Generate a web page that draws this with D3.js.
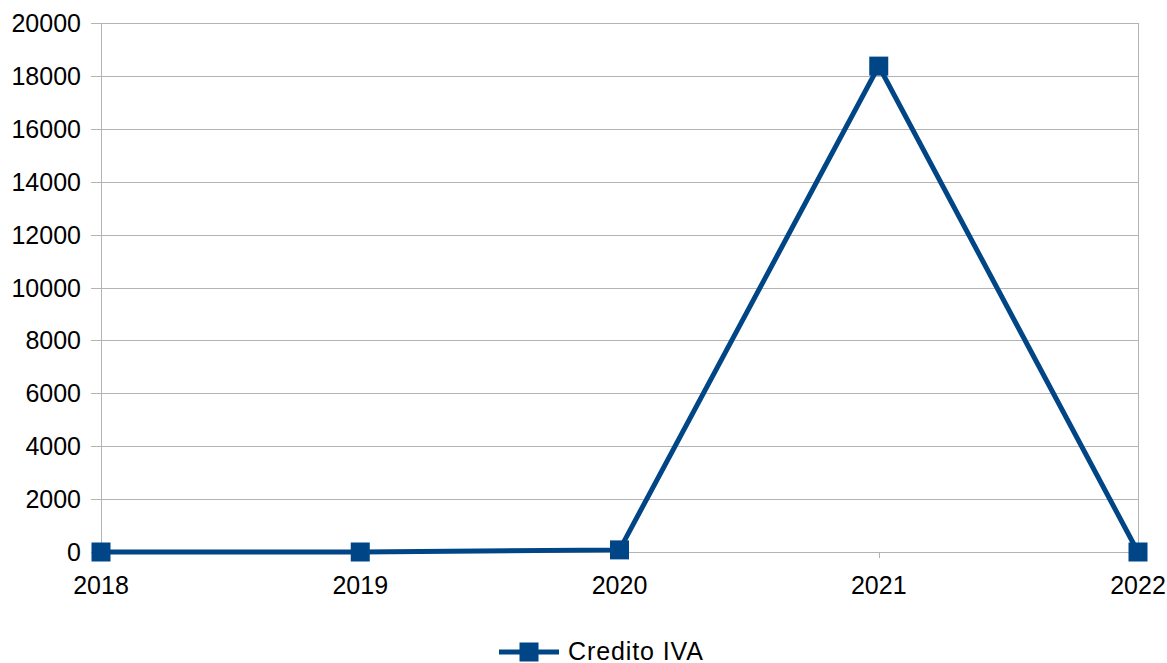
<!DOCTYPE html>
<html>
<head>
<meta charset="utf-8">
<script src="https://cdn.jsdelivr.net/npm/d3@7"></script>
<style>
  html, body { margin: 0; padding: 0; background: #fff; }
  svg { display: block; font-family: "Liberation Sans", Arial, sans-serif; }
</style>
</head>
<body>
<svg id="chart" width="1167" height="663"></svg>
<script>
const categories = ["2018", "2019", "2020", "2021", "2022"];
const values = [0, 0, 80, 18370, 0];
const yTicks = [0, 2000, 4000, 6000, 8000, 10000, 12000, 14000, 16000, 18000, 20000];
const seriesName = "Credito IVA";

(function () {
const svg = d3.select("#chart");
const mLeft = 101, mRight = 1138, mTop = 23, mBottom = 552;
const color = "#004586";
const gridColor = "#b3b3b3";

const x = d3.scalePoint().domain(categories).range([mLeft, mRight]);
const y = d3.scaleLinear().domain([0, 20000]).range([mBottom, mTop]);

// horizontal gridlines
svg.append("g").selectAll("line").data(yTicks).join("line")
  .attr("x1", mLeft - 10).attr("x2", mRight)
  .attr("y1", d => Math.round(y(d)) + 0.5).attr("y2", d => Math.round(y(d)) + 0.5)
  .attr("stroke", gridColor).attr("stroke-width", 1);

// left axis line and right border
[mLeft, mRight].forEach(xx => {
  svg.append("line")
    .attr("x1", xx + 0.5).attr("x2", xx + 0.5)
    .attr("y1", mTop).attr("y2", mBottom + 6)
    .attr("stroke", gridColor).attr("stroke-width", 1);
});

// x ticks
svg.append("g").selectAll("line").data(categories).join("line")
  .attr("x1", d => Math.round(x(d)) + 0.5).attr("x2", d => Math.round(x(d)) + 0.5)
  .attr("y1", mBottom).attr("y2", mBottom + 6)
  .attr("stroke", gridColor).attr("stroke-width", 1);

// y labels
svg.append("g").selectAll("text").data(yTicks).join("text")
  .attr("x", 81).attr("y", d => y(d) + 9)
  .attr("text-anchor", "end")
  .attr("font-size", 25).attr("fill", "#000")
  .text(d => d);

// x labels
svg.append("g").selectAll("text").data(categories).join("text")
  .attr("x", d => x(d)).attr("y", 594)
  .attr("text-anchor", "middle")
  .attr("font-size", 25).attr("fill", "#000")
  .text(d => d);

// line
const line = d3.line().x((d, i) => x(categories[i])).y(d => y(d));
svg.append("path").datum(values)
  .attr("d", line)
  .attr("fill", "none").attr("stroke", color)
  .attr("stroke-width", 5).attr("stroke-linejoin", "miter");

// markers
const ms = 19;
svg.append("g").selectAll("rect").data(values).join("rect")
  .attr("x", (d, i) => x(categories[i]) - ms / 2)
  .attr("y", d => y(d) - ms / 2)
  .attr("width", ms).attr("height", ms)
  .attr("fill", color);

// legend
const ly = 652;
svg.append("line")
  .attr("x1", 499).attr("x2", 559).attr("y1", ly).attr("y2", ly)
  .attr("stroke", color).attr("stroke-width", 5);
svg.append("rect")
  .attr("x", 529 - ms / 2).attr("y", ly - ms / 2)
  .attr("width", ms).attr("height", ms).attr("fill", color);
svg.append("text")
  .attr("x", 568).attr("y", 660)
  .attr("font-size", 25).attr("fill", "#000")
  .attr("textLength", 135).attr("lengthAdjust", "spacing")
  .text(seriesName);
})();
</script>
</body>
</html>
